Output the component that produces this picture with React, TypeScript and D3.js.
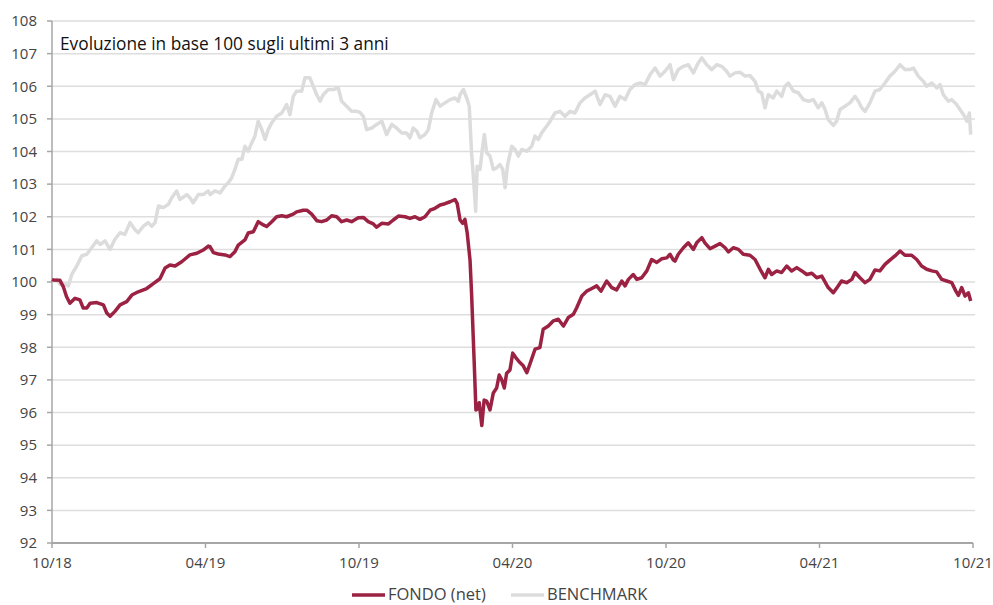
import { useMemo } from "react";
import * as d3 from "d3";

// months since 10/18
const fondoMonths = [
  0, 0.05, 0.31, 0.44, 0.57, 0.7, 0.9, 1.09, 1.22, 1.36, 1.49, 1.75, 2.01, 2.14, 2.27, 2.46, 2.66, 2.92, 3.12, 3.37,
  3.7, 3.96, 4.22, 4.42, 4.61, 4.81, 5.07, 5.39, 5.66, 5.91, 6.11, 6.18, 6.31, 6.5, 6.76, 6.96, 7.15, 7.28, 7.54, 7.67,
  7.87, 8.06, 8.26, 8.39, 8.59, 8.78, 8.98, 9.17, 9.43, 9.56, 9.82, 9.96, 10.15, 10.35, 10.54, 10.74, 10.93, 11.13, 11.32, 11.52,
  11.71, 11.97, 12.17, 12.36, 12.56, 12.69, 12.89, 13.15, 13.34, 13.54, 13.8, 13.99, 14.19, 14.38, 14.58, 14.78, 14.97, 15.17, 15.36, 15.56,
  15.75, 15.84, 15.95, 16.05, 16.14, 16.23, 16.34, 16.4, 16.5, 16.57, 16.62, 16.7, 16.8, 16.89, 16.99, 17.12, 17.25, 17.38, 17.48, 17.58,
  17.68, 17.77, 17.9, 18.01, 18.16, 18.29, 18.42, 18.56, 18.68, 18.88, 19.07, 19.2, 19.4, 19.6, 19.79, 19.99, 20.18, 20.38, 20.51, 20.71,
  20.9, 21.1, 21.29, 21.46, 21.68, 21.88, 22.07, 22.27, 22.4, 22.53, 22.72, 22.86, 23.05, 23.25, 23.44, 23.64, 23.83, 24.03, 24.16, 24.29,
  24.35, 24.48, 24.68, 24.87, 25.07, 25.2, 25.4, 25.52, 25.72, 25.92, 26.11, 26.31, 26.44, 26.63, 26.83, 27.02, 27.28, 27.48, 27.68, 27.87,
  28.0, 28.13, 28.33, 28.52, 28.72, 28.91, 29.11, 29.31, 29.5, 29.7, 29.89, 30.09, 30.34, 30.54, 30.73, 30.86, 31.06, 31.26, 31.39, 31.58,
  31.78, 31.97, 32.17, 32.36, 32.56, 32.75, 32.95, 33.15, 33.34, 33.6, 33.8, 33.99, 34.19, 34.39, 34.58, 34.78, 34.97, 35.17, 35.33, 35.43,
  35.56, 35.69, 35.82, 35.91,
];
const fondoValues = [
  100.08, 100.06, 100.05, 99.86, 99.55, 99.35, 99.5, 99.45, 99.2, 99.2, 99.35, 99.37, 99.3, 99.05, 98.95, 99.1, 99.3, 99.4, 99.6, 99.7,
  99.8, 99.95, 100.1, 100.43, 100.52, 100.49, 100.62, 100.83, 100.88, 100.98, 101.1, 101.08, 100.9, 100.86, 100.83, 100.78, 100.93, 101.13, 101.29, 101.5,
  101.54, 101.85, 101.75, 101.7, 101.85, 102.0, 102.03, 102.0, 102.08, 102.15, 102.2, 102.2, 102.08, 101.88, 101.85, 101.9, 102.03, 102.0, 101.85, 101.9,
  101.85, 101.97, 101.98, 101.85, 101.78, 101.68, 101.8, 101.78, 101.9, 102.02, 102.0, 101.95, 102.0, 101.92, 102.0, 102.2, 102.26, 102.36, 102.4, 102.46,
  102.53, 102.4, 101.9, 101.8, 101.92, 101.5, 100.67, 99.65, 97.6, 96.08, 96.1, 96.3, 95.6, 96.38, 96.35, 96.08, 96.6, 96.75, 97.15, 97.0,
  96.75, 97.2, 97.3, 97.82, 97.65, 97.53, 97.43, 97.22, 97.48, 97.94, 97.99, 98.55, 98.65, 98.81, 98.86, 98.65, 98.91, 99.01, 99.21, 99.57,
  99.72, 99.8, 99.88, 99.72, 100.03, 99.83, 99.76, 100.03, 99.88, 100.08, 100.23, 100.08, 100.13, 100.34, 100.69, 100.6, 100.71, 100.74, 100.85, 100.67,
  100.64, 100.85, 101.05, 101.2, 101.0, 101.2, 101.36, 101.2, 101.02, 101.1, 101.18, 101.05, 100.92, 101.05, 101.0, 100.85, 100.82, 100.69, 100.39, 100.13,
  100.39, 100.23, 100.34, 100.29, 100.49, 100.34, 100.44, 100.34, 100.23, 100.27, 100.13, 100.18, 99.83, 99.67, 99.88, 100.03, 99.98, 100.08, 100.29, 100.13,
  99.98, 100.08, 100.37, 100.34, 100.54, 100.67, 100.8, 100.95, 100.82, 100.82, 100.69, 100.49, 100.39, 100.34, 100.31, 100.08, 100.03, 99.98, 99.72, 99.59,
  99.83, 99.57, 99.67, 99.42,
];

const benchMonths = [
  0, 0.18, 0.31, 0.51, 0.64, 0.77, 0.97, 1.16, 1.36, 1.55, 1.75, 1.88, 2.07, 2.27, 2.46, 2.66, 2.85, 3.05, 3.24, 3.37,
  3.57, 3.76, 3.9, 4.03, 4.16, 4.35, 4.55, 4.68, 4.87, 5.0, 5.27, 5.39, 5.52, 5.72, 5.91, 6.11, 6.18, 6.37, 6.57, 6.76,
  6.89, 7.02, 7.15, 7.28, 7.42, 7.54, 7.67, 7.81, 7.93, 8.06, 8.2, 8.33, 8.45, 8.59, 8.78, 8.98, 9.17, 9.3, 9.43, 9.56,
  9.76, 9.89, 10.08, 10.21, 10.35, 10.48, 10.6, 10.8, 11.0, 11.19, 11.32, 11.52, 11.71, 11.91, 12.04, 12.17, 12.3, 12.5, 12.69, 12.89,
  13.08, 13.28, 13.47, 13.67, 13.86, 13.99, 14.12, 14.26, 14.38, 14.58, 14.71, 14.84, 15.01, 15.17, 15.36, 15.56, 15.75, 15.88, 15.95, 16.08,
  16.21, 16.31, 16.4, 16.47, 16.56, 16.62, 16.73, 16.82, 16.9, 16.99, 17.12, 17.25, 17.38, 17.51, 17.62, 17.71, 17.81, 17.97, 18.1, 18.23,
  18.36, 18.56, 18.75, 18.88, 19.01, 19.14, 19.34, 19.47, 19.66, 19.86, 20.05, 20.25, 20.44, 20.64, 20.83, 21.03, 21.23, 21.42, 21.62, 21.81,
  22.01, 22.2, 22.4, 22.59, 22.79, 22.99, 23.18, 23.38, 23.57, 23.77, 23.96, 24.16, 24.29, 24.48, 24.68, 24.87, 25.07, 25.26, 25.4, 25.59,
  25.79, 25.98, 26.18, 26.37, 26.5, 26.7, 26.89, 27.09, 27.28, 27.48, 27.61, 27.74, 27.87, 28.0, 28.19, 28.33, 28.52, 28.65, 28.78, 28.98,
  29.17, 29.37, 29.57, 29.76, 29.95, 30.09, 30.21, 30.34, 30.54, 30.67, 30.8, 31.0, 31.19, 31.39, 31.52, 31.65, 31.78, 31.97, 32.17, 32.36,
  32.56, 32.75, 32.95, 33.15, 33.34, 33.54, 33.67, 33.86, 34.06, 34.19, 34.39, 34.58, 34.71, 34.84, 35.04, 35.17, 35.36, 35.49, 35.67, 35.76,
  35.86, 35.91,
];
const benchValues = [
  100.03, 100.08, 99.93, 99.93, 99.88, 100.23, 100.49, 100.8, 100.85, 101.05, 101.26, 101.15, 101.26, 101.0, 101.31, 101.51, 101.46, 101.82, 101.61, 101.51,
  101.71, 101.82, 101.71, 101.82, 102.33, 102.28, 102.38, 102.58, 102.79, 102.53, 102.68, 102.58, 102.43, 102.68, 102.68, 102.79, 102.68, 102.79, 102.73, 102.94,
  103.04, 103.19, 103.45, 103.76, 103.76, 104.16, 104.01, 104.27, 104.47, 104.93, 104.67, 104.37, 104.67, 104.88, 105.08, 105.18, 105.44, 105.13, 105.69, 105.85,
  105.85, 106.26, 106.26, 106.0, 105.74, 105.54, 105.74, 105.9, 105.9, 105.95, 105.54, 105.39, 105.23, 105.23, 105.2, 105.08, 104.67, 104.72, 104.83, 104.93,
  104.52, 104.83, 104.72, 104.57, 104.57, 104.42, 104.72, 104.62, 104.42, 104.52, 104.67, 105.18, 105.59, 105.39, 105.49, 105.59, 105.64, 105.54, 105.74, 105.9,
  105.64, 105.39, 103.96, 103.24, 102.17, 103.55, 103.45, 104.06, 104.52, 103.96, 103.86, 103.45, 103.5, 103.6, 103.45, 102.89, 103.6, 104.16, 104.06, 103.86,
  104.06, 104.01, 104.16, 104.47, 104.37, 104.57, 104.78, 104.93, 105.18, 105.23, 105.08, 105.23, 105.18, 105.49, 105.64, 105.74, 105.85, 105.44, 105.74, 105.69,
  105.39, 105.69, 105.59, 105.9, 106.05, 106.1, 106.05, 106.36, 106.56, 106.31, 106.46, 106.66, 106.2, 106.51, 106.61, 106.66, 106.41, 106.71, 106.87, 106.66,
  106.51, 106.66, 106.61, 106.46, 106.31, 106.41, 106.43, 106.31, 106.33, 106.15, 105.85, 105.8, 105.34, 105.74, 105.64, 105.85, 105.69, 106.0, 106.1, 105.85,
  105.8, 105.59, 105.54, 105.59, 105.34, 105.49, 105.3, 104.98, 104.8, 104.93, 105.29, 105.39, 105.49, 105.69, 105.54, 105.34, 105.23, 105.49, 105.85, 105.9,
  106.1, 106.31, 106.46, 106.66, 106.51, 106.51, 106.56, 106.31, 106.15, 106.0, 106.1, 105.95, 106.05, 105.74, 105.54, 105.59, 105.44, 105.29, 105.08, 104.93,
  105.18, 104.52,
];

const xTickMonths = [0, 6, 12, 18, 24, 30, 36];
const xTickLabels = ["10/18", "04/19", "10/19", "04/20", "10/20", "04/21", "10/21"];
const yTicks = d3.range(92, 109, 1);

const seriesNames = ["FONDO (net)", "BENCHMARK"];
const seriesColors = ["#9b2242", "#dcdcdc"];

const W = 993;
const H = 605;
const FONT = "'Open Sans', 'Noto Sans', sans-serif";

export default function App() {
  const x = useMemo(() => d3.scaleLinear().domain([0, 36]).range([52, 973]), []);
  const y = useMemo(() => d3.scaleLinear().domain([92, 108]).range([543, 21]), []);

  const line = d3
    .line<[number, number]>()
    .x((d) => x(d[0]))
    .y((d) => y(d[1]));

  const fondo = fondoMonths.map((m, i) => [m, fondoValues[i]] as [number, number]);
  const bench = benchMonths.map((m, i) => [m, benchValues[i]] as [number, number]);

  const legendX = [352, 511];

  return (
    <svg
      width={W}
      height={H}
      style={{ position: "absolute", left: 0, top: 0, background: "#fff" }}
      fontFamily={FONT}
    >
      {/* grid */}
      {yTicks
        .filter((t) => t > 92)
        .map((t) => (
          <line key={t} x1={x(0)} x2={975} y1={y(t)} y2={y(t)} stroke="#dedede" strokeWidth={1.5} />
        ))}

      {/* y axis */}
      <line x1={x(0)} x2={x(0)} y1={y(108)} y2={y(92)} stroke="#a6a6a6" strokeWidth={1.5} />
      {yTicks.map((t) => (
        <g key={t}>
          <line x1={x(0) - 5} x2={x(0)} y1={y(t)} y2={y(t)} stroke="#a6a6a6" strokeWidth={1.5} />
          <text x={37} y={y(t)} dy="0.35em" textAnchor="end" fontSize={15} fill="#444">
            {t}
          </text>
        </g>
      ))}

      {/* x axis */}
      <line x1={x(0)} x2={x(36)} y1={y(92)} y2={y(92)} stroke="#a6a6a6" strokeWidth={2} />
      {xTickMonths.map((m, i) => (
        <g key={m}>
          <line x1={x(m)} x2={x(m)} y1={y(92)} y2={y(92) + 5} stroke="#a6a6a6" strokeWidth={1.5} />
          <text x={x(m)} y={568} textAnchor="middle" fontSize={15} fill="#444">
            {xTickLabels[i]}
          </text>
        </g>
      ))}

      {/* series */}
      <path d={line(bench) ?? ""} fill="none" stroke={seriesColors[1]} strokeWidth={3.5} strokeLinejoin="round" />
      <path d={line(fondo) ?? ""} fill="none" stroke={seriesColors[0]} strokeWidth={3.5} strokeLinejoin="round" />

      {/* title */}
      <text x={60} y={50} fontSize={17.3} fill="#111">
        Evoluzione in base 100 sugli ultimi 3 anni
      </text>

      {/* legend */}
      {seriesNames.map((name, i) => (
        <g key={name}>
          <line x1={legendX[i]} x2={legendX[i] + 33} y1={595} y2={595} stroke={seriesColors[i]} strokeWidth={3.5} />
          <text x={legendX[i] + 36} y={600} fontSize={16.5} fill="#444">
            {name}
          </text>
        </g>
      ))}
    </svg>
  );
}
